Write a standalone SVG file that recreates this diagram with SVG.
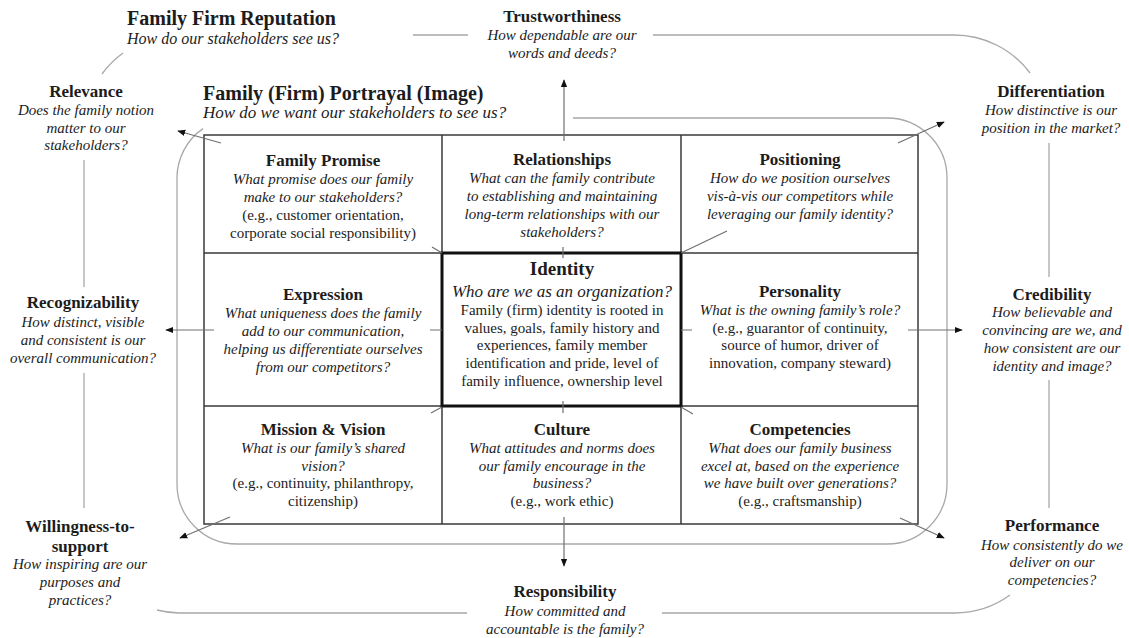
<svg xmlns="http://www.w3.org/2000/svg" width="1129" height="638" viewBox="0 0 1129 638">
  <style>
    text { font-family: "Liberation Serif", "Times New Roman", serif; fill: #1c1c1c; }
    .t { font-weight: bold; font-size: 17px; text-anchor: middle; }
    .q { font-style: italic; font-size: 15px; text-anchor: middle; }
    .r { font-size: 15px; text-anchor: middle; }
    .h { font-weight: bold; font-size: 20px; }
    .hq { font-style: italic; font-size: 16px; }
    .frame { fill: none; stroke: #a8a8a8; stroke-width: 1.3; }
    .grid { fill: none; stroke: #3a3a3a; stroke-width: 1.5; }
    .core { fill: none; stroke: #111; stroke-width: 3; }
    .link { fill: none; stroke: #707070; stroke-width: 1.2; }
    .arrow { marker-end: url(#ah); }
  </style>
  <defs>
    <marker id="ah" viewBox="0 0 10 10" refX="9" refY="5" markerWidth="8" markerHeight="8" orient="auto" markerUnits="userSpaceOnUse">
      <path d="M0,1 L10,5 L0,9 z" fill="#111"/>
    </marker>
  </defs>

  <rect width="1129" height="638" fill="#fff"/>

  <!-- outer reputation frame (open where labels sit) -->
  <path id="reputation-frame" class="frame" d="M413,35 H468 M653,35 H954 A95,95 0 0 1 1030,73 M123,53 A95,95 0 0 0 102,74 M84,160 V287 M84,373 V508 M157,610 A95,95 0 0 0 179,613 H467 M662,613 H954 A95,95 0 0 0 1010,595 M1049,143 V277 M1049,380 V508"/>

  <!-- inner portrayal frame -->
  <path id="portrayal-frame" class="frame" d="M573,118 H887 A60,60 0 0 1 947,178 V484 A60,60 0 0 1 887,544 H237 A60,60 0 0 1 177,484 V178 A60,60 0 0 1 203,128.6"/>

  <!-- 3x3 grid -->
  <g id="grid">
    <rect class="grid" x="204" y="135" width="714" height="389"/>
    <path class="grid" d="M442,135 V524 M681,135 V524 M204,253 H918 M204,406 H918"/>
    <rect class="core" x="442" y="253" width="239" height="153"/>
  </g>

  <!-- connectors -->
  <g id="connectors">
    <path class="link arrow" d="M564,141 V80"/>
    <path class="link arrow" d="M564,517 V566"/>
    <path class="link arrow" d="M221,143 L178,131"/>
    <path class="link arrow" d="M898,143 L944,122"/>
    <path class="link arrow" d="M214,330 H166"/>
    <path class="link arrow" d="M908,330 H962"/>
    <path class="link arrow" d="M230,517 L180,538"/>
    <path class="link arrow" d="M900,518 L944,538"/>
    <path class="link" d="M432,247 L442,253 M681,253 L727,231 M430,330 H442 M681,330 H692 M431,413 L442,407 M681,407 L693,414 M563,247 V258 M563,401 V413"/>
  </g>

  <!-- headings -->
  <g id="reputation">
    <text class="h" x="127" y="25">Family Firm Reputation</text>
    <text class="hq" x="127" y="44">How do our stakeholders see us?</text>
  </g>
  <g id="portrayal">
    <text class="h" x="203" y="100">Family (Firm) Portrayal (Image)</text>
    <text class="hq" x="203" y="118" style="font-size:17px">How do we want our stakeholders to see us?</text>
  </g>

  <!-- outer dimensions -->
  <g id="trustworthiness">
    <text class="t" x="562" y="22">Trustworthiness</text>
    <text class="q" x="562" y="40">How dependable are our</text>
    <text class="q" x="562" y="58">words and deeds?</text>
  </g>
  <g id="relevance">
    <text class="t" x="86" y="97">Relevance</text>
    <text class="q" x="86" y="115">Does the family notion</text>
    <text class="q" x="86" y="133">matter to our</text>
    <text class="q" x="86" y="150">stakeholders?</text>
  </g>
  <g id="differentiation">
    <text class="t" x="1051" y="97">Differentiation</text>
    <text class="q" x="1051" y="115">How distinctive is our</text>
    <text class="q" x="1051" y="133">position in the market?</text>
  </g>
  <g id="recognizability">
    <text class="t" x="83" y="308">Recognizability</text>
    <text class="q" x="83" y="327">How distinct, visible</text>
    <text class="q" x="83" y="345">and consistent is our</text>
    <text class="q" x="83" y="363">overall communication?</text>
  </g>
  <g id="credibility">
    <text class="t" x="1052" y="300">Credibility</text>
    <text class="q" x="1052" y="317">How believable and</text>
    <text class="q" x="1052" y="335">convincing are we, and</text>
    <text class="q" x="1052" y="353">how consistent are our</text>
    <text class="q" x="1052" y="371">identity and image?</text>
  </g>
  <g id="willingness">
    <text class="t" x="80" y="532">Willingness-to-</text>
    <text class="t" x="80" y="552">support</text>
    <text class="q" x="80" y="569">How inspiring are our</text>
    <text class="q" x="80" y="587">purposes and</text>
    <text class="q" x="80" y="605">practices?</text>
  </g>
  <g id="performance">
    <text class="t" x="1052" y="531">Performance</text>
    <text class="q" x="1052" y="550">How consistently do we</text>
    <text class="q" x="1052" y="567">deliver on our</text>
    <text class="q" x="1052" y="585">competencies?</text>
  </g>
  <g id="responsibility">
    <text class="t" x="565" y="597">Responsibility</text>
    <text class="q" x="565" y="616">How committed and</text>
    <text class="q" x="565" y="634">accountable is the family?</text>
  </g>

  <!-- grid cells -->
  <g id="family-promise">
    <text class="t" x="323" y="166">Family Promise</text>
    <text class="q" x="323" y="184">What promise does our family</text>
    <text class="q" x="323" y="202">make to our stakeholders?</text>
    <text class="r" x="323" y="220">(e.g., customer orientation,</text>
    <text class="r" x="323" y="238">corporate social responsibility)</text>
  </g>
  <g id="relationships">
    <text class="t" x="562" y="165">Relationships</text>
    <text class="q" x="562" y="183">What can the family contribute</text>
    <text class="q" x="562" y="201">to establishing and maintaining</text>
    <text class="q" x="562" y="219">long-term relationships with our</text>
    <text class="q" x="562" y="237">stakeholders?</text>
  </g>
  <g id="positioning">
    <text class="t" x="800" y="165">Positioning</text>
    <text class="q" x="800" y="183">How do we position ourselves</text>
    <text class="q" x="800" y="201">vis-à-vis our competitors while</text>
    <text class="q" x="800" y="219">leveraging our family identity?</text>
  </g>
  <g id="expression">
    <text class="t" x="323" y="300">Expression</text>
    <text class="q" x="323" y="318">What uniqueness does the family</text>
    <text class="q" x="323" y="336">add to our communication,</text>
    <text class="q" x="323" y="354">helping us differentiate ourselves</text>
    <text class="q" x="323" y="372">from our competitors?</text>
  </g>
  <g id="identity">
    <text class="t" x="562" y="275" style="font-size:19px">Identity</text>
    <text class="q" x="562" y="297" style="font-size:17px">Who are we as an organization?</text>
    <text class="r" x="562" y="315">Family (firm) identity is rooted in</text>
    <text class="r" x="562" y="333">values, goals, family history and</text>
    <text class="r" x="562" y="350">experiences, family member</text>
    <text class="r" x="562" y="368">identification and pride, level of</text>
    <text class="r" x="562" y="386">family influence, ownership level</text>
  </g>
  <g id="personality">
    <text class="t" x="800" y="297">Personality</text>
    <text class="q" x="800" y="315">What is the owning family’s role?</text>
    <text class="r" x="800" y="333">(e.g., guarantor of continuity,</text>
    <text class="r" x="800" y="350">source of humor, driver of</text>
    <text class="r" x="800" y="368">innovation, company steward)</text>
  </g>
  <g id="mission-vision">
    <text class="t" x="323" y="435">Mission &amp; Vision</text>
    <text class="q" x="323" y="453">What is our family’s shared</text>
    <text class="q" x="323" y="471">vision?</text>
    <text class="r" x="323" y="488">(e.g., continuity, philanthropy,</text>
    <text class="r" x="323" y="506">citizenship)</text>
  </g>
  <g id="culture">
    <text class="t" x="562" y="435">Culture</text>
    <text class="q" x="562" y="453">What attitudes and norms does</text>
    <text class="q" x="562" y="471">our family encourage in the</text>
    <text class="q" x="562" y="488">business?</text>
    <text class="r" x="562" y="506">(e.g., work ethic)</text>
  </g>
  <g id="competencies">
    <text class="t" x="800" y="435">Competencies</text>
    <text class="q" x="800" y="453">What does our family business</text>
    <text class="q" x="800" y="471">excel at, based on the experience</text>
    <text class="q" x="800" y="488">we have built over generations?</text>
    <text class="r" x="800" y="506">(e.g., craftsmanship)</text>
  </g>
</svg>
